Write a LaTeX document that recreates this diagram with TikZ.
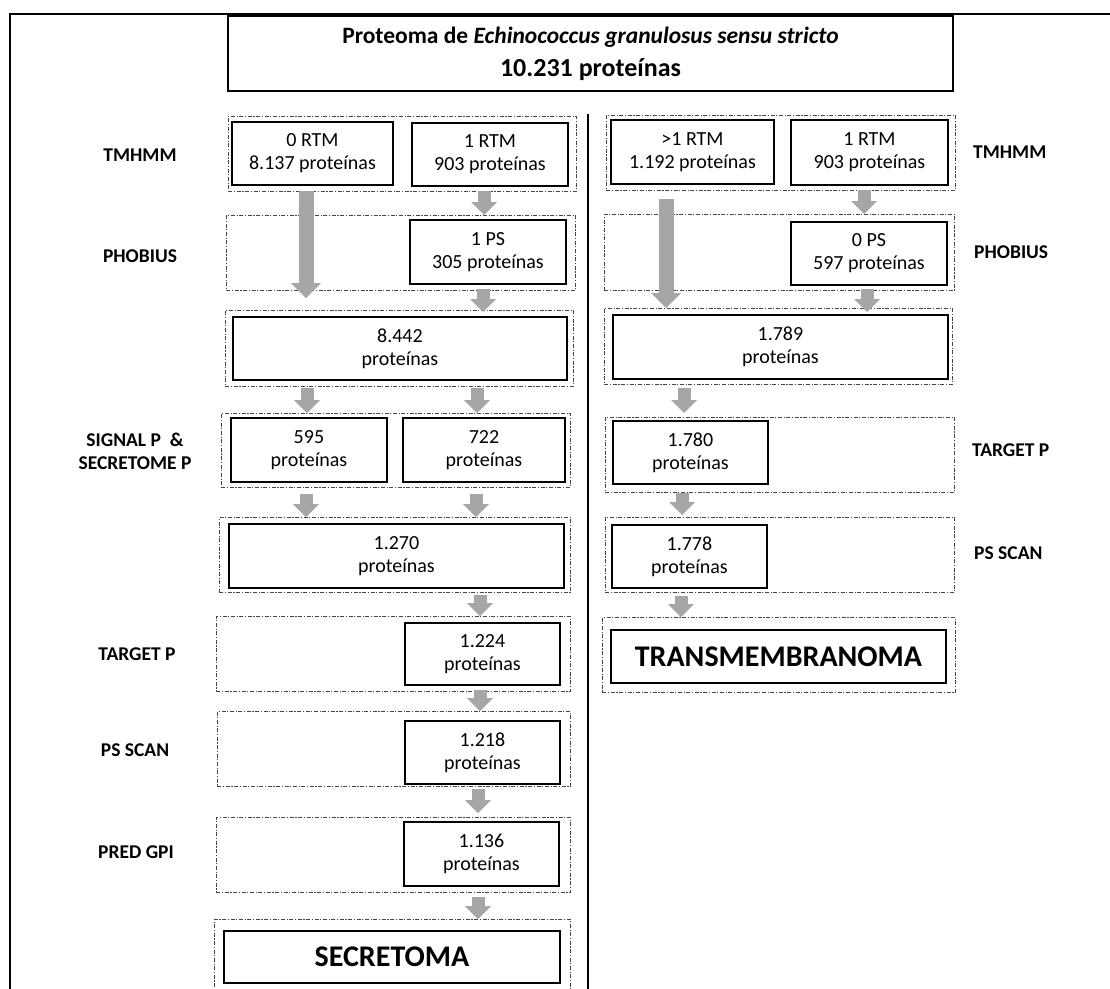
\documentclass[tikz,border=0pt]{standalone}
\usepackage{fontspec}
\setmainfont{Carlito}
\usetikzlibrary{arrows.meta}
\definecolor{arrowgray}{RGB}{166,166,166}
\definecolor{dashgray}{RGB}{70,70,70}
\tikzset{
  grp/.style={draw=dashgray, line width=0.9pt, dash pattern=on 4pt off 1.6pt on 1.2pt off 1.6pt, inner sep=0pt, anchor=north west},
  bx/.style={draw=black, line width=1.9pt, fill=white, inner sep=0pt, align=center, anchor=north west, font=\fontsize{20}{23}\selectfont},
  titlebox/.style={draw=black, line width=2pt, fill=white, inner sep=0pt, align=center, anchor=north west},
  lbl/.style={font=\bfseries\fontsize{19.5}{23}\selectfont, align=center, inner sep=0pt},
  bigtxt/.style={font=\bfseries\fontsize{30}{34}\selectfont},
  sarrow/.style={draw=arrowgray, line width=13pt, -{Triangle[width=26pt,length=13pt,line width=0pt]}},
  barrow/.style={draw=arrowgray, line width=15pt, -{Triangle[width=30pt,length=15pt,line width=0pt]}},
  frameline/.style={draw=black, line width=2pt},
}
\begin{document}
\begin{tikzpicture}[x=1pt,y=-1pt]
\clip (0,0) rectangle (1110,988);
\fill[white] (0,0) rectangle (1110,988);
% outer frame and divider
\draw[frameline] (9.5,990) -- (9.5,14) -- (1112,14);
\draw[frameline] (588,114) -- (588,990);
% title
\node[titlebox, minimum width=725pt, minimum height=75pt] (T) at (227,15)
  {\bfseries\fontsize{23.5}{28}\selectfont Proteoma de \textit{Echinococcus granulosus sensu stricto}\\[10pt]
   \bfseries\fontsize{26}{30}\selectfont 10.231 proteínas};
% ---------- left column groups
\node[grp, minimum width=348pt, minimum height=75pt] (G1L) at (228,116) {};
\node[grp, minimum width=349pt, minimum height=75pt] (G2L) at (226,215) {};
\node[grp, minimum width=348pt, minimum height=76pt] (G3L) at (225,310) {};
\node[grp, minimum width=349pt, minimum height=74pt] (G4L) at (221,413) {};
\node[grp, minimum width=351pt, minimum height=75pt] (G5L) at (219,517) {};
\node[grp, minimum width=354pt, minimum height=75pt] (G6L) at (216,616) {};
\node[grp, minimum width=353pt, minimum height=75pt] (G7L) at (217,711) {};
\node[grp, minimum width=354pt, minimum height=75pt] (G8L) at (216,817) {};
\node[grp, minimum width=356pt, minimum height=81pt] (G9L) at (214,919) {};
% left boxes
\node[bx, minimum width=161pt, minimum height=63pt] (B0RTM) at (231,121) {0 RTM\\8.137 proteínas};
\node[bx, minimum width=156pt, minimum height=63pt] (B1RTM) at (411,122) {1 RTM\\903 proteínas};
\node[bx, minimum width=156pt, minimum height=64pt] (B1PS) at (409,219) {1 PS\\305 proteínas};
\node[bx, minimum width=334pt, minimum height=63pt] (B8442) at (232,316) {8.442\\proteínas};
\node[bx, minimum width=156pt, minimum height=64pt] (B595) at (230,417) {595\\proteínas};
\node[bx, minimum width=162pt, minimum height=64pt] (B722) at (402,417) {722\\proteínas};
\node[bx, minimum width=335pt, minimum height=64pt] (B1270) at (228,523) {1.270\\proteínas};
\node[bx, minimum width=155pt, minimum height=62pt] (B1224) at (404,622) {1.224\\proteínas};
\node[bx, minimum width=155pt, minimum height=63pt] (B1218) at (404,720) {1.218\\proteínas};
\node[bx, minimum width=155pt, minimum height=64pt] (B1136) at (403,821) {1.136\\proteínas};
\node[bx, bigtxt, minimum width=336pt, minimum height=52pt] (BSEC) at (223,930) {SECRETOMA};
% left labels
\node[lbl] (LTM1) at (140,155) {TMHMM};
\node[lbl] (LPH1) at (140,256) {PHOBIUS};
\node[lbl] (LSIG) at (135,451) {SIGNAL P~~\&\\SECRETOME P};
\node[lbl] (LTP1) at (137,654) {TARGET P};
\node[lbl] (LPS1) at (135,750) {PS SCAN};
\node[lbl] (LGPI) at (136,852) {PRED GPI};
% ---------- right column groups
\node[grp, minimum width=349pt, minimum height=75pt] (G1R) at (606,115) {};
\node[grp, minimum width=350pt, minimum height=76pt] (G2R) at (604,214) {};
\node[grp, minimum width=348pt, minimum height=76pt] (G3R) at (604,308) {};
\node[grp, minimum width=349pt, minimum height=75pt] (G4R) at (605,417) {};
\node[grp, minimum width=349pt, minimum height=75pt] (G5R) at (605,517) {};
\node[grp, minimum width=353pt, minimum height=75pt] (G6R) at (602,617) {};
% right boxes
\node[bx, minimum width=163pt, minimum height=64pt] (BR1) at (610,119) {>1 RTM\\1.192 proteínas};
\node[bx, minimum width=157pt, minimum height=65pt] (BR2) at (790,119) {1 RTM\\903 proteínas};
\node[bx, minimum width=156pt, minimum height=63pt] (BR0PS) at (790,221) {0 PS\\597 proteínas};
\node[bx, minimum width=335pt, minimum height=64pt] (B1789) at (612,314) {1.789\\proteínas};
\node[bx, minimum width=155pt, minimum height=63pt] (B1780) at (612,420) {1.780\\proteínas};
\node[bx, minimum width=155pt, minimum height=63pt] (B1778) at (611,524) {1.778\\proteínas};
\node[bx, bigtxt, minimum width=335pt, minimum height=53pt] (BTM) at (610,629) {TRANSMEMBRANOMA};
% right labels
\node[lbl, anchor=west] (LTM2) at (973,152) {TMHMM};
\node[lbl, anchor=west] (LPH2) at (974,252) {PHOBIUS};
\node[lbl, anchor=west] (LTP2) at (972,450) {TARGET P};
\node[lbl, anchor=west] (LPS2) at (974,553) {PS SCAN};
% ---------- arrows left
\draw[barrow, shorten <=5pt, shorten >=12pt] (306,0 |- B0RTM.south) -- (306,0 |- G3L.north);
\draw[sarrow, shorten <=4pt] (484,0 |- B1RTM.south) -- (484,0 |- G2L.north);
\draw[sarrow, shorten <=4pt, shorten >=4pt] (483,0 |- B1PS.south) -- (483,0 |- B8442.north);
\draw[sarrow, shorten <=7pt] (307,0 |- B8442.south) -- (307,0 |- G4L.north);
\draw[sarrow, shorten <=7pt] (477,0 |- B8442.south) -- (477,0 |- G4L.north);
\draw[sarrow, shorten <=11pt] (306,0 |- B595.south) -- (306,0 |- G5L.north);
\draw[sarrow, shorten <=11pt] (476,0 |- B722.south) -- (476,0 |- G5L.north);
\draw[sarrow, shorten <=6pt] (480,0 |- B1270.south) -- (480,0 |- G6L.north);
\draw[sarrow, shorten <=4pt] (480,0 |- B1224.south) -- (480,0 |- G7L.north);
\draw[sarrow, shorten <=4pt, shorten >=4pt] (478,0 |- B1218.south) -- (478,0 |- G8L.north);
\draw[sarrow, shorten <=10pt] (478,0 |- B1136.south) -- (478,0 |- G9L.north);
% ---------- arrows right
\draw[barrow, shorten <=14pt] (666,0 |- BR1.south) -- (666,0 |- G3R.north);
\draw[sarrow, shorten <=4pt] (864,0 |- BR2.south) -- (864,0 |- G2R.north);
\draw[sarrow, shorten <=3pt, shorten >=2pt] (867,0 |- BR0PS.south) -- (867,0 |- B1789.north);
\draw[sarrow, shorten <=8pt, shorten >=4pt] (684,0 |- B1789.south) -- (684,0 |- G4R.north);
\draw[sarrow, shorten <=8pt, shorten >=2pt] (682,0 |- B1780.south) -- (682,0 |- G5R.north);
\draw[sarrow, shorten <=7pt] (681,0 |- B1778.south) -- (681,0 |- G6R.north);
\end{tikzpicture}
\end{document}
